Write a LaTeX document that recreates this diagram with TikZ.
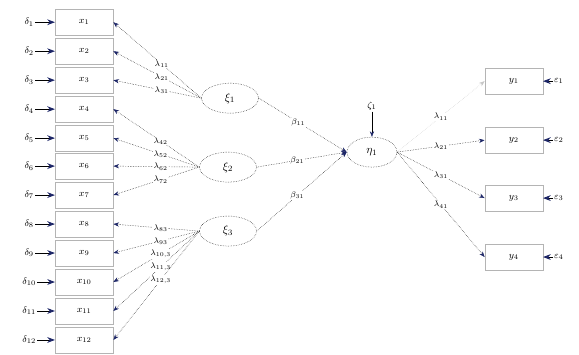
\documentclass[tikz,border=0pt]{standalone}
\usepackage{tikz}
\usetikzlibrary{shapes.geometric, arrows.meta, positioning}
\definecolor{mynavy}{HTML}{1C2566}
\definecolor{boxgray}{HTML}{B4B4B4}
\tikzset{
	obsnode/.style={
			rectangle,
			draw=boxgray,
			thin,
			minimum width=17.4mm,
			minimum height=7.8mm,
			inner sep=0pt,
			font=\footnotesize
		},
	latnode/.style={
			ellipse,
			draw=black,
			densely dotted,
			minimum width=17.1mm,
			minimum height=9mm,
			inner sep=0pt
		},
	errnode/.style={
			inner sep=1pt,
			font=\footnotesize
		},
	patharrow/.style={
			densely dotted,
			-{Stealth[color=mynavy]}
		},
	fadedarrow/.style={
			draw=gray!45,
			densely dotted,
			-{Stealth[color=gray!45]}
		},
	errarrow/.style={
			thick,
			-{Stealth[color=mynavy]}
		},
	coeflabel/.style={
			fill=white,
			inner sep=0.5pt,
			font=\scriptsize
		}
}

\begin{document}
\begin{tikzpicture}[x=0.3mm, y=-0.3mm]
\draw[white] (0,0) rectangle (579,354);
% indicators of the exogenous factors
\foreach \i/\yy in {1/22,2/51,3/80,4/109,5/138,6/166,7/195,8/224,9/253,10/282,11/311,12/340} {
	\node[obsnode] (x\i) at (84,\yy) {$x_{\i}$};
	\node[errnode] (d\i) at (29,\yy) {$\delta_{\i}$};
	\draw[errarrow] (d\i) -- (x\i);
}

\node[latnode] (xi1) at (230,98) {$\xi_1$};
\node[latnode] (xi2) at (228,167) {$\xi_2$};
\node[latnode] (xi3) at (228,231) {$\xi_3$};
\node[latnode, minimum width=15mm] (eta) at (372,152) {$\eta_1$};
\node[errnode] (zeta) at (372,106) {$\zeta_1$};

\foreach \i/\k/\lab in {1/1/11,2/1/21,3/1/31,4/2/42,5/2/52,6/2/62,7/2/72,8/3/83,9/3/93,10/3/{10,3},11/3/{11,3},12/3/{12,3}} {
	\draw[patharrow] (xi\k.west) -- (x\i.east) node[coeflabel, pos=0.45] {$\lambda_{\lab}$};
}

\draw[patharrow] (xi1.east) -- (eta.west) node[coeflabel, pos=0.45] {$\beta_{11}$};
\draw[patharrow] (xi2.east) -- (eta.west) node[coeflabel, pos=0.45] {$\beta_{21}$};
\draw[patharrow] (xi3.east) -- (eta.west) node[coeflabel, pos=0.45] {$\beta_{31}$};
\draw[-{Stealth[color=mynavy]}] (zeta) -- (eta);

% indicators of the endogenous factor
\foreach \j/\yy in {1/81,2/140,3/198,4/257} {
	\node[obsnode] (y\j) at (514,\yy) {$y_{\j}$};
	\node[errnode] (e\j) at (559,\yy) {$\varepsilon_{\j}$};
	\draw[errarrow] (e\j) -- (y\j);
}

\draw[fadedarrow] (eta.east) -- (y1.west) node[coeflabel, pos=0.5] {$\lambda_{11}$};
\draw[patharrow] (eta.east) -- (y2.west) node[coeflabel, pos=0.5] {$\lambda_{21}$};
\draw[patharrow] (eta.east) -- (y3.west) node[coeflabel, pos=0.5] {$\lambda_{31}$};
\draw[patharrow] (eta.east) -- (y4.west) node[coeflabel, pos=0.5] {$\lambda_{41}$};
\end{tikzpicture}
\end{document}
